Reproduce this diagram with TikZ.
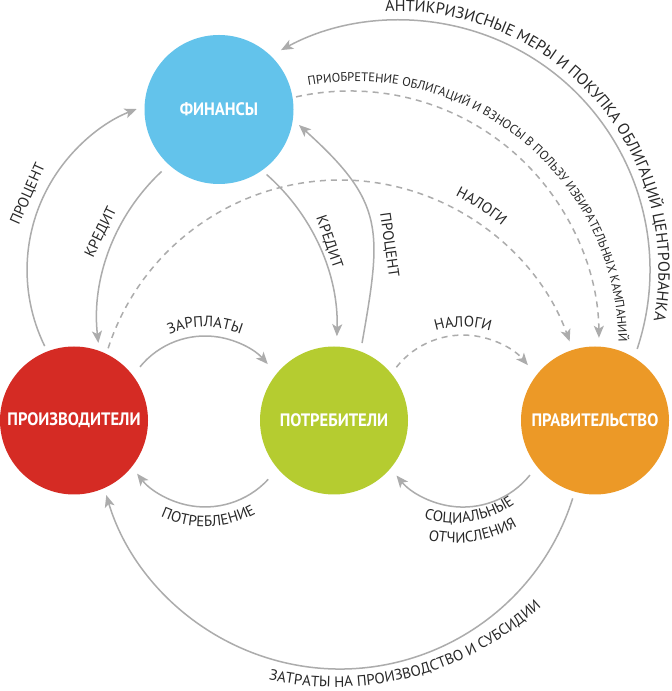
\documentclass[tikz,border=0pt]{standalone}
\usepackage{fontspec}
\setmainfont{PT Sans}
\newfontfamily\hubfont[FakeStretch=0.92]{PT Sans}
\usetikzlibrary{arrows.meta,decorations.text,calc}
\definecolor{cfin}{RGB}{99,195,235}
\definecolor{cprod}{RGB}{213,43,36}
\definecolor{ccons}{RGB}{181,204,48}
\definecolor{cgov}{RGB}{236,153,39}
\definecolor{cline}{RGB}{172,172,172}
\definecolor{ctxt}{RGB}{40,40,40}
\newcommand\labfont{\fontsize{15}{17}\selectfont}
\newcommand\bigfont{\fontsize{16}{18}\selectfont}
\newcommand\smallfont{\fontsize{12.5}{14}\selectfont}
\tikzset{
  hub/.style={circle, minimum size=148pt, inner sep=0pt, text=white,
    font=\hubfont\bfseries\fontsize{18}{20}\selectfont},
  flow/.style={draw=cline, line width=1.5pt,
    -{Stealth[length=12pt,width=10pt,inset=3pt]}},
  dflow/.style={flow, dash pattern=on 6pt off 5pt},
  lbl/.style={text=ctxt, font=\labfont, inner sep=0pt},
  ctext/.style={decorate, decoration={text along path, text align=center,
    text color=ctxt, text={|\labfont|#1}}},
  btext/.style={decorate, decoration={text along path, text align=center,
    text color=ctxt, text={|\bigfont|#1}}},
  stext/.style={decorate, decoration={text along path, text align=center,
    text color=ctxt, text={|\smallfont|#1}}}
}
\begin{document}
\begin{tikzpicture}[x=1pt,y=1pt]
\fill[white] (0,0) rectangle (672,691);
\useasboundingbox (0,0) rectangle (672,691);

% hubs
\node[hub, fill=cfin, minimum size=149pt] (fin) at (219,581.5) {ФИНАНСЫ};
\node[hub, fill=cprod] (prod) at (74,270.5) {ПРОИЗВОДИТЕЛИ};
\node[hub, fill=ccons] (cons) at (334,270.5) {ПОТРЕБИТЕЛИ};
\node[hub, fill=cgov] (gov) at (595,270.5) {ПРАВИТЕЛЬСТВО};

% arc centres for curved labels
\coordinate (czr) at (205,271);
\coordinate (cnl) at (463,271);
\coordinate (cpt) at (205,270);
\coordinate (csc) at (455,270);
\coordinate (czt) at (335,309);
\coordinate (cak) at (400,421);
\coordinate (cpr) at (355,346);
\coordinate (cbn) at (340,267);

% connectors
\draw[flow] ($(prod.center)+(111.5:80)$) arc[start angle=206.1, end angle=111.5, radius=173];
\draw[flow] ($(fin.center)+(227.2:84.5)$) arc[start angle=133, end angle=186.5, radius=203];
\draw[flow] ($(fin.center)+(306.2:80.6)$) arc[start angle=48.7, end angle=-1.7, radius=207];
\draw[flow] ($(cons.center)+(70.1:82.4)$) to[out=80, in=-42, looseness=1.3] ($(fin.center)+(-11:81.5)$);
\draw[flow] ($(prod.center)+(39.1:85)$) arc[start angle=140.8, end angle=41.7, radius=84];
\draw[dflow] ($(cons.center)+(40.5:82)$) arc[start angle=141.6, end angle=40.2, radius=85];
\draw[flow] ($(cons.center)+(221.8:88.2)$) arc[start angle=-42.7, end angle=-142.2, radius=86];
\draw[flow] ($(gov.center)+(220:84.9)$) arc[start angle=-38.9, end angle=-140.7, radius=86];
\draw[flow] ($(gov.center)+(254:81)$) arc[start angle=-17.5, end angle=-163.3, radius=244];
\draw[flow] ($(gov.center)+(59.5:83.1)$) arc[start angle=-18.4, end angle=118.4, radius=250];
\draw[dflow] ($(fin.center)+(9.3:78.1)$) arc[start angle=102.5, end angle=0.5, radius=249];
\draw[dflow] ($(prod.center)+(64.7:79.9)$) arc[start angle=161.9, end angle=19.8, radius=244];

% straight-ish labels
\node[lbl, rotate=66] (lp1) at (28,497) {ПРОЦЕНТ};
\node[lbl, rotate=64] (lk1) at (101,459) {КРЕДИТ};
\node[lbl, rotate=-71] (lk2) at (329,449) {КРЕДИТ};
\node[lbl, rotate=-82] (lp2) at (389,446) {ПРОЦЕНТ};

% curved labels
\path[ctext={ЗАРПЛАТЫ}] ($(czr)+(150:93)$) arc[start angle=150, end angle=30, radius=93];
\path[ctext={НАЛОГИ}] ($(cnl)+(150:93)$) arc[start angle=150, end angle=30, radius=93];
\path[ctext={ПОТРЕБЛЕНИЕ}] ($(cpt)+(-148:105.5)$) arc[start angle=-148, end angle=-28, radius=105.5];
\path[ctext={СОЦИАЛЬНЫЕ}] ($(csc)+(-141:102)$) arc[start angle=-141, end angle=-21, radius=102];
\path[ctext={ОТЧИСЛЕНИЯ}] ($(csc)+(-141:122)$) arc[start angle=-141, end angle=-21, radius=122];
\path[ctext={ЗАТРАТЫ НА ПРОИЗВОДСТВО И СУБСИДИИ}] ($(czt)+(-135:305)$) arc[start angle=-135, end angle=-15, radius=305];
\path[btext={АНТИКРИЗИСНЫЕ МЕРЫ И ПОКУПКА ОБЛИГАЦИЙ ЦЕНТРОБАНКА}] ($(cak)+(101:258.5)$) arc[start angle=101, end angle=-19, radius=258.5];
\path[stext={ПРИОБРЕТЕНИЕ ОБЛИГАЦИЙ И ВЗНОСЫ В ПОЛЬЗУ ИЗБИРАТЕЛЬНЫХ КАМПАНИЙ}] ($(cpr)+(110.45:263.5)$) arc[start angle=110.45, end angle=-9.55, radius=263.5];
\path[ctext={НАЛОГИ}] ($(cbn)+(80:256)$) arc[start angle=80, end angle=34, radius=256];
\end{tikzpicture}
\end{document}
